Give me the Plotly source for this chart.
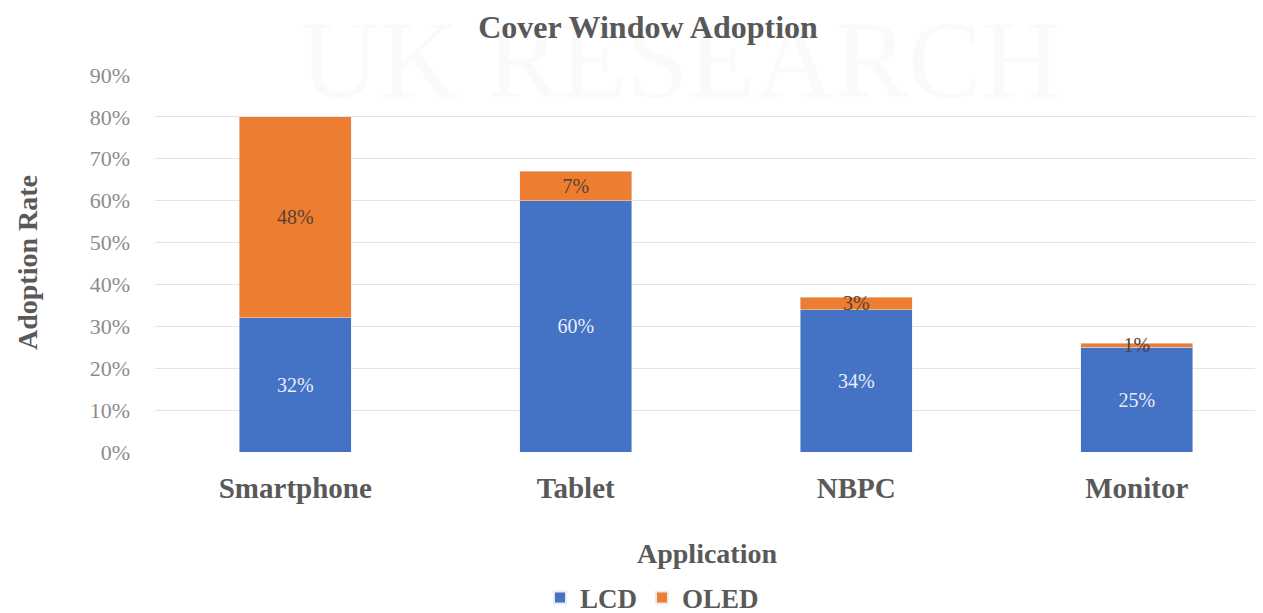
import plotly.graph_objects as go

categories = ["Smartphone", "Tablet", "NBPC", "Monitor"]
lcd = [0.32, 0.60, 0.34, 0.25]
oled = [0.48, 0.07, 0.03, 0.01]
y_ticks = [0, 0.1, 0.2, 0.3, 0.4, 0.5, 0.6, 0.7, 0.8, 0.9]
y_tick_labels = ["0%", "10%", "20%", "30%", "40%", "50%", "60%", "70%", "80%", "90%"]

# page has an 8px body margin: work in figure coordinates = page - 8
OFF = 8
W, H = 1255, 605
PLOT_LEFT, PLOT_TOP, PLOT_BOTTOM = 155, 75, 452  # page pixels
L = PLOT_LEFT - OFF
T = PLOT_TOP - OFF
B = H - (PLOT_BOTTOM - OFF)
R = 0
PW, PH = W - L - R, H - T - B


def px(xp):
    return (xp - OFF - L) / PW


def py(yp):
    return (H - B - (yp - OFF)) / PH


fig = go.Figure()
fig.add_trace(go.Bar(
    x=categories, y=lcd, name="<b>LCD</b>", marker_color="#4472C4",
    text=[f"{v:.0%}" for v in lcd], textposition="inside", insidetextanchor="middle",
    textfont=dict(family="Liberation Serif", size=20, color="#E8EEF8"),
    constraintext="none", width=0.4,
))
fig.add_trace(go.Bar(
    x=categories, y=oled, name="<b>OLED</b>", marker_color="#ED7D31",
    text=[f"{v:.0%}" for v in oled], textposition="inside", insidetextanchor="middle",
    textfont=dict(family="Liberation Serif", size=20, color="#5A4030"),
    constraintext="none", width=0.4,
))

fig.update_layout(
    width=W, height=H, barmode="stack",
    margin=dict(l=L, r=R, t=T, b=B, autoexpand=False),
    paper_bgcolor="white", plot_bgcolor="white",
    font=dict(family="Liberation Serif", color="#595959"),
    title=dict(text="<b>Cover Window Adoption</b>", x=(648 - OFF) / W, xanchor="center",
               y=1 - (27 - OFF) / H, yanchor="middle", font=dict(size=32, color="#595959")),
    showlegend=True,
    legend=dict(orientation="h", xref="container", yref="container",
                x=(652 - OFF) / W, xanchor="center", y=1 - (598 - OFF) / H, yanchor="middle",
                font=dict(size=27, color="#595959"), traceorder="normal",
                itemwidth=30, itemsizing="constant"),
    xaxis=dict(range=[-0.5, 3.45], showgrid=False, showline=False, zeroline=False,
               tickfont=dict(size=29, color="#595959", family="Liberation Serif"),
               tickprefix="<b>", ticksuffix="</b>", ticklabelstandoff=16),
    yaxis=dict(range=[0, 0.9], tickvals=y_ticks, ticktext=y_tick_labels,
               showgrid=True, gridcolor="#E3E3E3", zeroline=False, showline=False,
               tickfont=dict(size=22, color="#8C8C8C"), ticklabelstandoff=24),
)

fig.add_annotation(text="<b>Application</b>", xref="paper", yref="paper",
                   x=px(707), y=py(553),
                   showarrow=False, font=dict(size=28, color="#595959"),
                   xanchor="center", yanchor="middle")
fig.add_annotation(text="<b>Adoption Rate</b>", xref="paper", yref="paper",
                   x=px(27), y=py(263),
                   showarrow=False, textangle=-90, font=dict(size=28, color="#595959"),
                   xanchor="center", yanchor="middle")
fig.add_annotation(text="UK RESEARCH", xref="paper", yref="paper",
                   x=px(680), y=py(60),
                   showarrow=False, font=dict(size=110, color="rgba(0,0,0,0.02)",
                                              family="Liberation Serif"),
                   xanchor="center", yanchor="middle")

fig.write_html("out.html")
